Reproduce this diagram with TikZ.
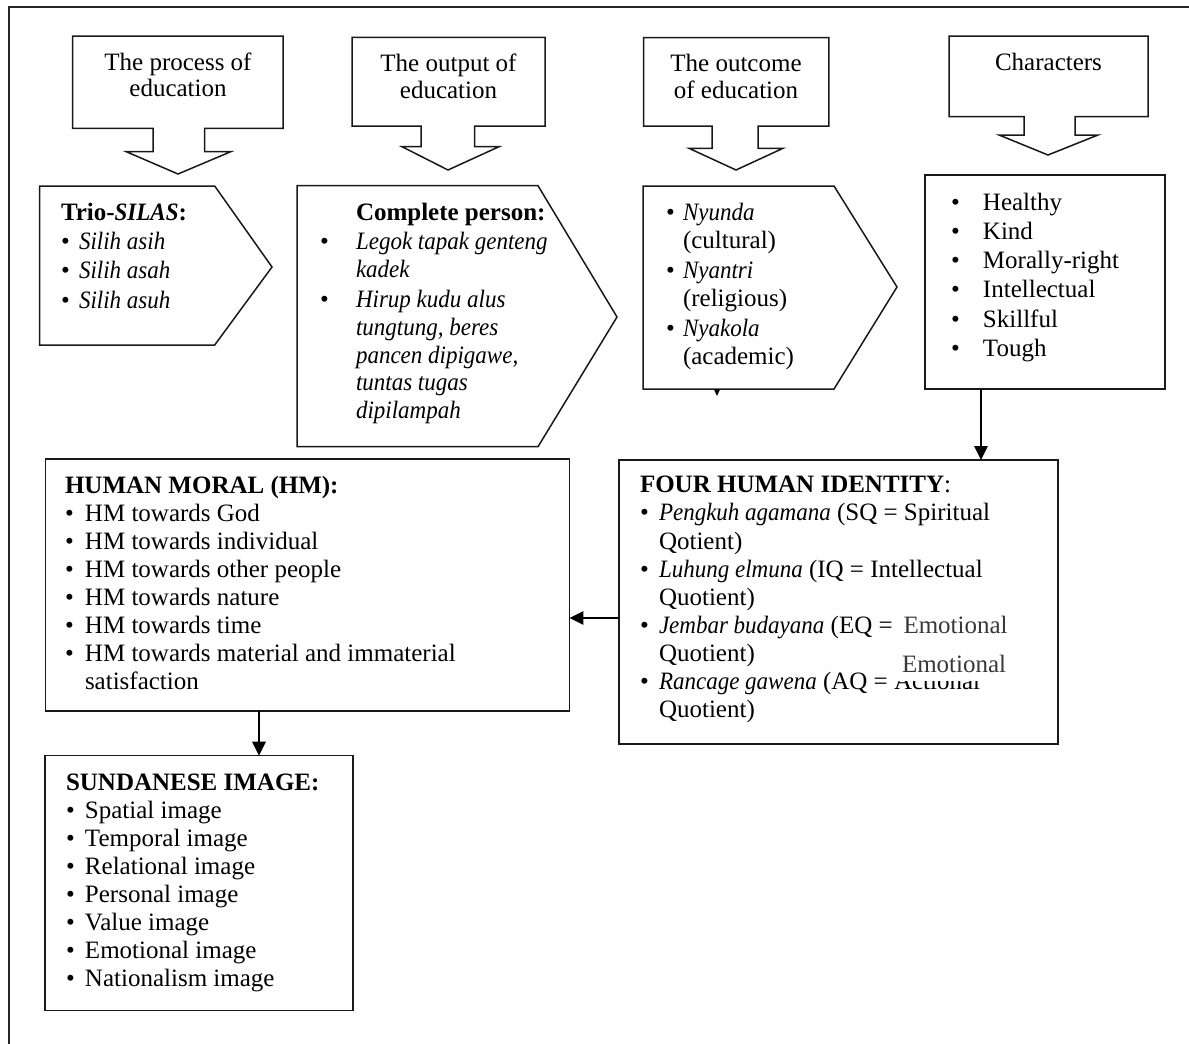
\documentclass[tikz,border=0pt]{standalone}
\usepackage{fontspec}
\setmainfont{Liberation Serif}[ItalicFeatures={FakeStretch=0.92},BoldItalicFeatures={FakeStretch=0.92}]
\usetikzlibrary{arrows.meta}
\newcommand{\bx}[3]{\parbox[t]{#1}{\raggedright\fontsize{25}{#2}\selectfont #3}}
\newcommand{\bi}[2]{\makebox[#1][l]{\textbullet}#2}
\newcommand{\ind}[1]{\hspace*{#1}}
\begin{document}
\begin{tikzpicture}[x=1pt,y=-1pt,
  shp/.style={draw=black!90, line width=1.5pt, line join=miter},
  box/.style={draw=black!90, line width=1.5pt, inner sep=0pt, outer sep=0pt, anchor=north west},
  txt/.style={inner sep=0pt, outer sep=0pt, anchor=base west},
  ctxt/.style={inner sep=0pt, outer sep=0pt, anchor=base},
  arr/.style={line width=2.8pt, -{Triangle[length=14pt,width=13pt]}},
  gtxt/.style={txt, text=black!78, font=\fontsize{25}{28}\selectfont}]

\useasboundingbox[fill=white] (0,0) rectangle (1189,1044);

% outer frame (cropped)
\draw[line width=2pt, black!85] (8.5,1044) -- (8.5,7.3) -- (1189,7.3);

% top callouts
\draw[shp] (72.7,36) -- (283.2,36) -- (283.2,128.3) -- (204.7,128.3) -- (204.7,151.7) -- (230.8,151.7) -- (178,174) -- (126.3,151.7) -- (153.1,151.7) -- (153.1,128.3) -- (72.7,128.3) -- cycle;
\draw[shp] (352,37.3) -- (545,37.3) -- (545,126) -- (474.5,126) -- (474.5,146.7) -- (499,146.7) -- (448,170) -- (402,146.7) -- (421,146.7) -- (421,126) -- (352,126) -- cycle;
\draw[shp] (643.5,37.7) -- (828.8,37.7) -- (828.8,126) -- (758,126) -- (758,148.3) -- (783,148.3) -- (736,170) -- (689,148.3) -- (712,148.3) -- (712,126) -- (643.5,126) -- cycle;
\draw[shp] (949,36) -- (1148,36) -- (1148,116.7) -- (1075,116.7) -- (1075,135) -- (1098,135) -- (1048,155) -- (999,135) -- (1024,135) -- (1024,116.7) -- (949,116.7) -- cycle;

\node[ctxt] (c1) at (178,70) {\parbox[t]{220pt}{\centering\fontsize{25}{26.7}\selectfont The process of\\education}};
\node[ctxt] (c2) at (448.5,71.7) {\parbox[t]{220pt}{\centering\fontsize{25}{26.3}\selectfont The output of\\education}};
\node[ctxt] (c3) at (736,71.7) {\parbox[t]{220pt}{\centering\fontsize{25}{26.3}\selectfont The outcome\\of education}};
\node[ctxt] (c4) at (1048.5,70) {\parbox[t]{220pt}{\centering\fontsize{25}{26.3}\selectfont Characters}};

% pentagons
\draw[shp] (39.5,186) -- (214.7,186) -- (272,267) -- (214.7,345) -- (39.5,345) -- cycle;
\draw[shp] (297,185.7) -- (538,185.7) -- (617,317) -- (538,446.7) -- (297,446.7) -- cycle;
\draw[shp] (643,186) -- (834,186) -- (897,287) -- (834,389) -- (643,389) -- cycle;
\fill[black] (713.8,389) -- (720.2,389) -- (717,396) -- cycle;

\node[txt] (trio) at (61,220) {\bx{300pt}{29.4pt}{\textbf{Trio-\textit{SILAS}:}\\
\bi{18pt}{\textit{Silih asih}}\\
\bi{18pt}{\textit{Silih asah}}\\
\bi{18pt}{\textit{Silih asuh}}}};

\node[txt] (comp) at (320,220) {\bx{400pt}{27.8pt}{\ind{36pt}\textbf{Complete person:}\\[2pt]
\bi{36pt}{\textit{Legok tapak genteng}}\\
\ind{36pt}\textit{kadek}\\[2pt]
\bi{36pt}{\textit{Hirup kudu alus}}\\
\ind{36pt}\textit{tungtung, beres}\\
\ind{36pt}\textit{pancen dipigawe,}\\
\ind{36pt}\textit{tuntas tugas}\\
\ind{36pt}\textit{dipilampah}}};

\node[txt] (outc) at (666,220) {\bx{300pt}{28pt}{\bi{17pt}{\textit{Nyunda}}\\
\ind{17pt}(cultural)\\[2pt]
\bi{17pt}{\textit{Nyantri}}\\
\ind{17pt}(religious)\\[2pt]
\bi{17pt}{\textit{Nyakola}}\\
\ind{17pt}(academic)}};

% rectangles
\node[box, minimum width=240pt, minimum height=214pt] (healthy) at (925,175) {};
\node[box, minimum width=439pt, minimum height=284pt] (identity) at (619,460) {};
\node[box, minimum width=523.9pt, minimum height=252pt] (hm) at (45.5,459) {};
\node[box, minimum width=308pt, minimum height=255pt] (sund) at (45,755.7) {};

\node[txt] (chars) at (951,210) {\bx{300pt}{29.3pt}{\bi{32pt}{Healthy}\\
\bi{32pt}{Kind}\\
\bi{32pt}{Morally-right}\\
\bi{32pt}{Intellectual}\\
\bi{32pt}{Skillful}\\
\bi{32pt}{Tough}}};

\node[txt] (hmt) at (65,493) {\bx{520pt}{28pt}{\textbf{HUMAN MORAL (HM):}\\
\bi{20pt}{HM towards God}\\
\bi{20pt}{HM towards individual}\\
\bi{20pt}{HM towards other people}\\
\bi{20pt}{HM towards nature}\\
\bi{20pt}{HM towards time}\\
\bi{20pt}{HM towards material and immaterial}\\
\ind{20pt}satisfaction}};

\node[txt] (idt) at (640,492.7) {\bx{520pt}{28.15pt}{\textbf{FOUR HUMAN IDENTITY}:\\
\bi{19pt}{\textit{Pengkuh agamana} (SQ = Spiritual}\\
\ind{19pt}Qotient)\\
\bi{19pt}{\textit{Luhung elmuna} (IQ = Intellectual}\\
\ind{19pt}Quotient)\\
\bi{19pt}{\textit{Jembar budayana} (EQ =}\\
\ind{19pt}Quotient)\\
\bi{19pt}{\textit{Rancage gawena} (AQ = Actional}\\
\ind{19pt}Quotient)}};

\node[gtxt] (emo1) at (903.5,633) {Emotional};
\node[fill=white, inner sep=0pt, outer sep=0pt, minimum width=122pt, minimum height=37pt, anchor=north west] (cover) at (891,644) {};
\node[gtxt] (emo2) at (902,672) {Emotional};

\node[txt] (sdt) at (66,790) {\bx{300pt}{28.1pt}{\textbf{SUNDANESE IMAGE:}\\
\bi{19pt}{Spatial image}\\
\bi{19pt}{Temporal image}\\
\bi{19pt}{Relational image}\\
\bi{19pt}{Personal image}\\
\bi{19pt}{Value image}\\
\bi{19pt}{Emotional image}\\
\bi{19pt}{Nationalism image}}};

% connectors
\coordinate (ax) at (981,0);
\draw[arr] (healthy.south -| ax) -- (identity.north -| ax);
\coordinate (ay) at (0,618);
\draw[arr] (identity.west |- ay) -- (hm.east |- ay);
\coordinate (bxx) at (259,0);
\draw[arr] (hm.south -| bxx) -- (sund.north -| bxx);
\end{tikzpicture}
\end{document}
